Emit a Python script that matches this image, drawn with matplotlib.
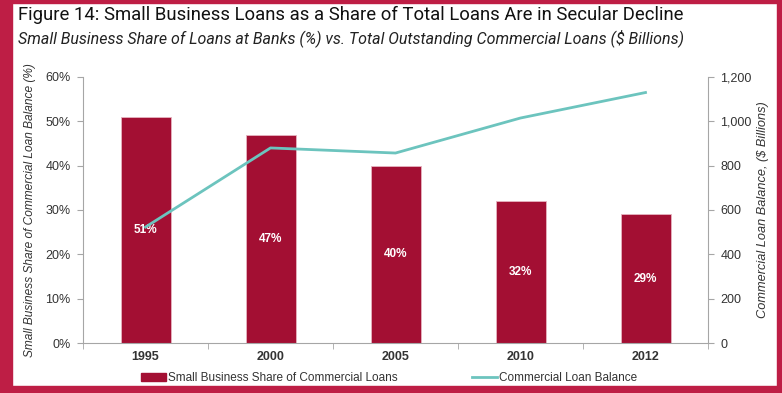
import matplotlib.pyplot as plt
from matplotlib.patches import Rectangle
from matplotlib.lines import Line2D
import numpy as np

years = ['1995', '2000', '2005', '2010', '2012']
share_pct = [51, 47, 40, 32, 29]
loan_balance = [523, 880, 857, 1015, 1130]

BAR = '#A30F33'
TEAL = '#6CC4BE'
FRAME = '#BE1E45'
GREY = '#A6A6A6'
TXT = '#333333'
SANS = 'Liberation Sans'

W, H = 782, 393
fig = plt.figure(figsize=(W / 100, H / 100), dpi=100)

# red frame round the chart
def px_rect(x, y, w, h):
  fig.patches.append(Rectangle((x / W, 1 - (y + h) / H), w / W, h / H,
                               transform=fig.transFigure, color=FRAME, zorder=0))

px_rect(0, 0, 12, H)
px_rect(0, 0, W, 3)
px_rect(W - 5, 0, 5, H)
px_rect(0, H - 7, W, 7)

fig.text(18 / W, 1 - 6 / H, 'Figure 14: Small Business Loans as a Share of Total Loans Are in Secular Decline',
         family='Roboto', fontsize=13.3, color='#111111', va='top', ha='left')
fig.text(18 / W, 1 - 29 / H, 'Small Business Share of Loans at Banks (%) vs. Total Outstanding Commercial Loans ($ Billions)',
         family='Roboto', fontsize=11.5, style='italic', color='#222222', va='top', ha='left')

ax = fig.add_axes([83 / W, 1 - 343 / H, 625 / W, 266 / H])
x = np.arange(len(years))
ax.bar(x, share_pct, width=0.4, color=BAR, edgecolor='#E6B4C0', linewidth=0.6, zorder=2)
for xi, v in zip(x, share_pct):
  ax.text(xi, v / 2, f'{v}%', ha='center', va='center', color='white',
          fontsize=8.5, fontweight='bold', family=SANS, zorder=5)

ax.set_xlim(-0.5, len(years) - 0.5)
ax.set_ylim(0, 60)
ax.set_yticks(range(0, 61, 10))
ax.set_yticklabels([f'{t}%' for t in range(0, 61, 10)], family=SANS)
ax.set_xticks(x)
ax.set_xticklabels(years, fontweight='bold', family=SANS)
ax.set_xticks(np.arange(-0.5, len(years)), minor=True)
ax.tick_params(axis='x', which='major', length=0, pad=6, labelsize=9, colors=TXT)
ax.tick_params(axis='x', which='minor', length=4, color=GREY, direction='out')
ax.tick_params(axis='y', length=4, color=GREY, labelsize=9, labelcolor=TXT, pad=5)
for side in ['top', 'right']:
  ax.spines[side].set_visible(False)
for side in ['left', 'bottom']:
  ax.spines[side].set_color(GREY)
  ax.spines[side].set_linewidth(0.8)
ax.set_ylabel('Small Business Share of Commercial Loan Balance (%)', style='italic',
              family=SANS, fontsize=8.6, color=TXT, labelpad=7)

ax2 = ax.twinx()
ax2.plot(x, loan_balance, color=TEAL, linewidth=2, zorder=4)
ax2.set_ylim(0, 1200)
ax2.set_yticks(range(0, 1201, 200))
ax2.set_yticklabels([f'{t:,}' for t in range(0, 1201, 200)], family=SANS)
ax2.tick_params(axis='y', length=4, color=GREY, labelsize=9, labelcolor=TXT, pad=5)
for side in ['top', 'left', 'bottom']:
  ax2.spines[side].set_visible(False)
ax2.spines['right'].set_color(GREY)
ax2.spines['right'].set_linewidth(0.8)
ax2.set_ylabel('Commercial Loan Balance, ($ Billions)', style='italic', family=SANS,
               fontsize=9.2, color=TXT, labelpad=4)

# legend entries placed one by one under the axis
leg_kw = dict(loc='center left', frameon=False, prop={'family': SANS, 'size': 8.5},
              handlelength=2.1, handleheight=0.7, handletextpad=0.15, borderpad=0,
              borderaxespad=0, labelcolor=TXT)
fig.legend([Rectangle((0, 0), 1, 1, color=BAR)], ['Small Business Share of Commercial Loans'],
           bbox_to_anchor=(141 / W, 1 - 378 / H), **leg_kw)
fig.legend([Line2D([0], [0], color=TEAL, linewidth=2)], ['Commercial Loan Balance'],
           bbox_to_anchor=(472 / W, 1 - 378 / H), **leg_kw)

fig.savefig('out.png', dpi=100, facecolor='white')
